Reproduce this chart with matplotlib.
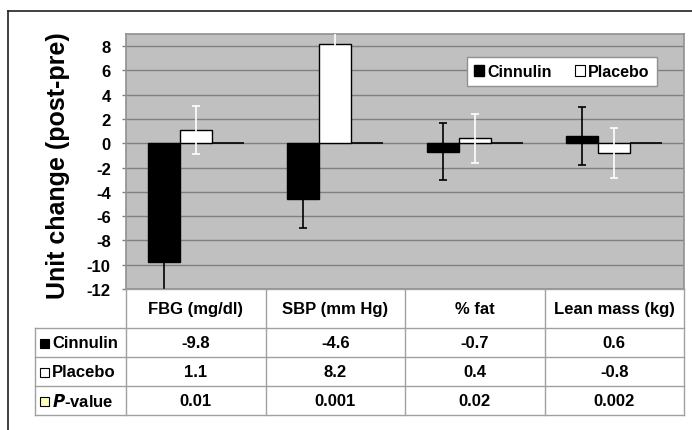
import numpy as np
import matplotlib
matplotlib.use("Agg")
import matplotlib.pyplot as plt
from matplotlib.patches import Rectangle
from matplotlib.lines import Line2D

plt.rcParams['font.family'] = ['Liberation Sans', 'DejaVu Sans']
plt.rcParams['font.weight'] = 'bold'

categories = ['FBG (mg/dl)', 'SBP (mm Hg)', '% fat', 'Lean mass (kg)']
cinnulin = [-9.8, -4.6, -0.7, 0.6]
placebo = [1.1, 8.2, 0.4, -0.8]
p_value = [0.01, 0.001, 0.02, 0.002]
cinnulin_err = [2.4, 2.4, 2.35, 2.35]
placebo_err = [2.0, 2.0, 2.05, 2.05]
row_names = ['Cinnulin', 'Placebo', 'P-value']
row_labels = ['Cinnulin', 'Placebo', '$\\bf{\\it{P}}$-value']
yticks = list(range(-12, 9, 2))

W, H = 692, 431
fig = plt.figure(figsize=(W / 100, H / 100), dpi=100)

def fx(px):
    return px / W

def fy(py):
    return 1 - py / H

# plot area in pixels: left 126, right 684, top 35, bottom 290
ax = fig.add_axes([fx(126), fy(290), fx(684) - fx(126), fy(35) - fy(290)])
ax.set_facecolor('#C0C0C0')

x = np.arange(len(categories))
w = 0.23
ax.bar(x - w, cinnulin, w, color='black', edgecolor='black', lw=1, zorder=2, label='Cinnulin')
ax.bar(x, placebo, w, color='white', edgecolor='black', lw=1, zorder=2, label='Placebo')
ax.bar(x + w, p_value, w, color='#FFFFC0', edgecolor='black', lw=1.2, zorder=2)
ax.errorbar(x - w, cinnulin, yerr=cinnulin_err, fmt='none', ecolor='black',
            elinewidth=1.2, capsize=3, capthick=1.2, zorder=3)
ax.errorbar(x, placebo, yerr=placebo_err, fmt='none', ecolor='white',
            elinewidth=1.2, capsize=3, capthick=1.2, zorder=3)

ax.set_xlim(-0.5, 3.5)
ax.set_ylim(-12, 9)
ax.set_yticks(yticks)
ax.set_yticklabels([str(t) for t in yticks], fontsize=12, fontweight='bold')
ax.set_xticks([])
ax.tick_params(axis='y', length=3, width=1, color='#808080', pad=8)
ax.yaxis.grid(True, color='#808080', lw=1)
ax.set_axisbelow(True)
for s in ax.spines.values():
    s.set_color('#909090')
    s.set_linewidth(1.2)

handles = [Rectangle((0, 0), 1, 1, fc='black', ec='black'),
           Rectangle((0, 0), 1, 1, fc='white', ec='black', lw=0.8)]
leg = ax.legend(handles, ['Cinnulin', 'Placebo'], ncol=2, loc='upper left',
                bbox_to_anchor=(0.611, 0.91), borderaxespad=0, fancybox=False,
                framealpha=1, edgecolor='#909090', handlelength=0.6, handleheight=0.6,
                handletextpad=0.2, columnspacing=1.5, borderpad=0.45,
                prop={'size': 11.5, 'weight': 'bold'})
leg.get_frame().set_linewidth(1)

fig.text(fx(58), fy(166), 'Unit change (post-pre)', rotation=90, ha='center', va='center',
         fontsize=18, fontweight='bold')

# data table below the plot
col_edges = [126, 265.5, 405, 544.5, 684]
row_edges = [290, 329, 358, 387, 416]
label_left = 35
gc = '#A0A0A0'

def hline(y, x0, x1):
    fig.add_artist(Line2D([fx(x0), fx(x1)], [fy(y), fy(y)], color=gc, lw=1))

def vline(x0, y0, y1):
    fig.add_artist(Line2D([fx(x0), fx(x0)], [fy(y0), fy(y1)], color=gc, lw=1))

for i, y in enumerate(row_edges):
    hline(y, label_left if i > 0 else col_edges[0], col_edges[-1])
for i, xe in enumerate(col_edges):
    vline(xe, row_edges[0], row_edges[-1])
vline(label_left, row_edges[1], row_edges[-1])

for j, c in enumerate(categories):
    cx = (col_edges[j] + col_edges[j + 1]) / 2
    fig.text(fx(cx), fy((row_edges[0] + row_edges[1]) / 2), c, ha='center', va='center',
             fontsize=12, fontweight='bold')

table_vals = [cinnulin, placebo, p_value]
key_colors = ['black', 'white', '#FFFFC0']
for i, vals in enumerate(table_vals):
    cy = (row_edges[i + 1] + row_edges[i + 2]) / 2
    for j, v in enumerate(vals):
        cx = (col_edges[j] + col_edges[j + 1]) / 2
        fig.text(fx(cx), fy(cy), str(v), ha='center', va='center', fontsize=12, fontweight='bold')
    fig.add_artist(Rectangle((fx(40), fy(cy + 5)), fx(9), 9 / H, fc=key_colors[i],
                             ec='black', lw=0.8, transform=fig.transFigure))
    fig.text(fx(52), fy(cy), row_labels[i], ha='left', va='center', fontsize=12, fontweight='bold')

# outer chart frame
fig.add_artist(Line2D([fx(8), fx(8)], [fy(12), fy(H + 5)], color='#202020', lw=1.2))
fig.add_artist(Line2D([fx(8), fx(W + 5)], [fy(12), fy(12)], color='#202020', lw=1.2))

fig.savefig('out.png', dpi=100)
